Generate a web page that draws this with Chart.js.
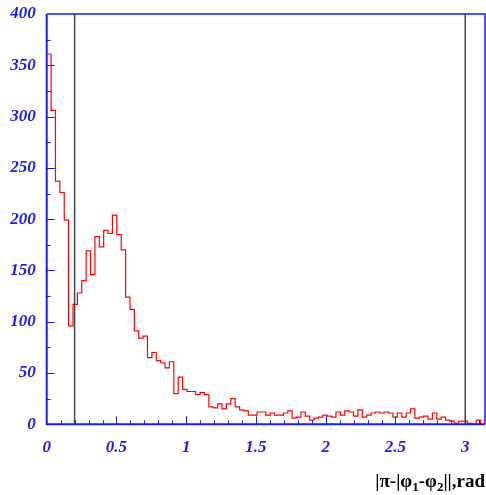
<!DOCTYPE html>
<html>
<head>
<meta charset="utf-8">
<script src="https://cdn.jsdelivr.net/npm/chart.js@4.4.1/dist/chart.umd.min.js"></script>
<style>
  html, body { margin: 0; padding: 0; background: #fff; }
  #wrap { width: 486px; height: 495px; }
</style>
</head>
<body>
<div id="wrap"><canvas id="hist"></canvas></div>
<script>
// histogram of |pi - |phi1 - phi2||, 100 bins from 0 to pi
const xMin = 0;
const xMax = Math.PI;
const counts = [
    361, 306, 237, 226, 199, 96, 117, 128, 140, 169,
    146, 183, 173, 189, 186, 204, 185, 170, 124, 112,
    91, 84, 86, 65, 70, 62, 60, 55, 61, 30,
    46, 34, 32, 32, 29, 31, 29, 17, 16, 20,
    15, 20, 25, 17, 14, 13, 9, 9, 12, 12,
    9, 11, 9, 9, 11, 13, 6, 7, 12, 8,
    4, 6, 7, 9, 8, 7, 12, 9, 13, 12,
    8, 14, 7, 9, 11, 12, 11, 12, 11, 7,
    11, 7, 11, 15, 6, 7, 8, 5, 11, 5,
    7, 4, 3, 1, 3, 3, 1, 0, 4, 0
];
const cutLines = [0.2, 3.0];
const yTickLabels = [0, 50, 100, 150, 200, 250, 300, 350, 400];
const xTickLabels = [0, 0.5, 1, 1.5, 2, 2.5, 3];
const yMinorStep = 25;
const xMinorStep = 0.1;

const axisBlue = '#1a1aff';
const labelFont = { family: '"Liberation Serif", "DejaVu Serif", serif', size: 17, style: 'italic', weight: 'bold' };

const binWidth = (xMax - xMin) / counts.length;
const histPoints = counts.map((c, i) => ({ x: xMin + i * binWidth, y: c }));
histPoints.push({ x: xMax, y: counts[counts.length - 1] });

const cutDatasets = cutLines.map(v => ({
    data: [{ x: v, y: 0 }, { x: v, y: 400 }],
    borderColor: '#444',
    borderWidth: 1.5,
    pointRadius: 0,
    fill: false
}));

// ticks pointing inward, blue frame and the axis title with subscripts
const framePlugin = {
    id: 'framePlugin',
    afterDraw(chart) {
        const ctx = chart.ctx;
        const a = chart.chartArea;
        const x = chart.scales.x;
        const y = chart.scales.y;
        ctx.save();
        ctx.strokeStyle = axisBlue;
        ctx.lineWidth = 1;
        for (let v = yMinorStep; v < 400; v += yMinorStep) {
            const py = Math.round(y.getPixelForValue(v)) + 0.5;
            const len = v % 50 === 0 ? 8 : 4;
            ctx.beginPath();
            ctx.moveTo(a.left, py);
            ctx.lineTo(a.left + len, py);
            ctx.stroke();
        }
        for (let k = 1; k * xMinorStep < xMax; k++) {
            const px = Math.round(x.getPixelForValue(k * xMinorStep)) + 0.5;
            const len = k % 5 === 0 ? 8 : 4;
            ctx.beginPath();
            ctx.moveTo(px, a.bottom);
            ctx.lineTo(px, a.bottom - len);
            ctx.stroke();
        }
        ctx.lineWidth = 1.5;
        ctx.beginPath();
        ctx.moveTo(a.left, a.top);
        ctx.lineTo(a.right, a.top);
        ctx.lineTo(a.right, a.bottom);
        ctx.stroke();
        ctx.lineWidth = 2;
        ctx.beginPath();
        ctx.moveTo(a.left, a.top);
        ctx.lineTo(a.left, a.bottom);
        ctx.lineTo(a.right, a.bottom);
        ctx.stroke();

        // x axis title
        const parts = [
            { t: '|\u03C0-|\u03C6', sub: false },
            { t: '1', sub: true },
            { t: '-\u03C6', sub: false },
            { t: '2', sub: true },
            { t: '||,rad', sub: false }
        ];
        const big = 'bold 19px "Liberation Serif", serif';
        const small = 'bold 13px "Liberation Serif", serif';
        let total = 0;
        parts.forEach(p => {
            ctx.font = p.sub ? small : big;
            p.w = ctx.measureText(p.t).width;
            total += p.w;
        });
        let tx = 485 - total;
        const base = 487;
        ctx.fillStyle = '#000';
        ctx.textBaseline = 'alphabetic';
        parts.forEach(p => {
            ctx.font = p.sub ? small : big;
            ctx.fillText(p.t, tx, p.sub ? base + 4 : base);
            tx += p.w;
        });
        ctx.restore();
    }
};

const ctx = document.getElementById('hist').getContext('2d');
new Chart(ctx, {
    type: 'line',
    data: {
        datasets: [{
            data: histPoints,
            borderColor: '#ff0000',
            borderWidth: 1.2,
            stepped: 'before',
            pointRadius: 0,
            fill: false
        }].concat(cutDatasets)
    },
    options: {
        responsive: true,
        maintainAspectRatio: false,
        animation: false,
        events: [],
        layout: { padding: { left: 0, right: 1, top: 14, bottom: 0 } },
        plugins: { legend: { display: false }, tooltip: { enabled: false } },
        scales: {
            x: {
                type: 'linear',
                min: xMin,
                max: xMax,
                afterBuildTicks: s => { s.ticks = xTickLabels.map(v => ({ value: v })); },
                afterFit: s => { s.height = 70.7; s.paddingLeft = 0; s.paddingRight = 0; },
                grid: { display: false, drawTicks: false },
                border: { display: false },
                ticks: {
                    color: axisBlue,
                    font: labelFont,
                    padding: 13,
                    maxRotation: 0,
                    autoSkip: false,
                    callback: v => String(v)
                }
            },
            y: {
                type: 'linear',
                min: 0,
                max: 400,
                afterBuildTicks: s => { s.ticks = yTickLabels.map(v => ({ value: v })); },
                afterFit: s => { s.width = 46.7; s.paddingTop = 0; s.paddingBottom = 0; },
                grid: { display: false, drawTicks: false },
                border: { display: false },
                ticks: {
                    color: axisBlue,
                    font: labelFont,
                    padding: 11,
                    callback: v => String(v)
                }
            }
        }
    },
    plugins: [framePlugin]
});
</script>
</body>
</html>
